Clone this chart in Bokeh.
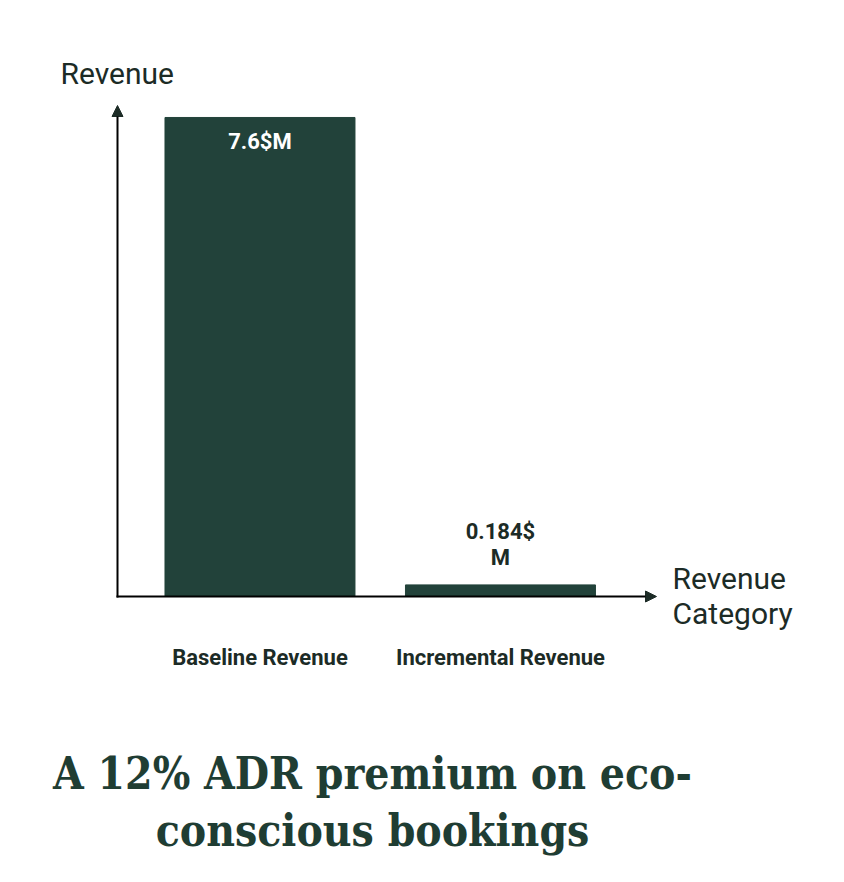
from bokeh.plotting import figure
from bokeh.models import ColumnDataSource, Arrow, NormalHead, Label, Range1d
from bokeh.core.properties import value
from bokeh.embed import file_html
from bokeh.resources import INLINE

categories = ["Baseline Revenue", "Incremental Revenue"]
revenue_musd = [7.6, 0.184]
value_labels = ["7.6$M", "0.184$\nM"]
title_lines = ["A 12% ADR premium on eco-", "conscious bookings"]

W, H = 828, 866
BAR = "#22423a"
DARK = "#1c2b26"

xs = [1, 2]
p = figure(width=W, height=H, output_backend="svg", toolbar_location=None,
           x_range=Range1d(-0.079, 3.364), y_range=Range1d(-4.284, 9.456),
           min_border=0)
p.axis.visible = False
p.grid.visible = False
p.outline_line_color = None
p.background_fill_color = "white"

src = ColumnDataSource(dict(x=xs, top=revenue_musd, cat=categories))
p.vbar(x="x", top="top", bottom=0, width=0.79, color=BAR, source=src)

def sx(img_x):
    return img_x
def sy(img_y):
    return H - img_y

p.add_layout(Arrow(x_start=sx(117), y_start=sy(597), x_end=sx(117), y_end=sy(105),
                   start_units="screen", end_units="screen", line_width=2, line_color="black",
                   end=NormalHead(size=11, fill_color=DARK, line_color=DARK)))
p.add_layout(Arrow(x_start=sx(116), y_start=sy(596), x_end=sx(656), y_end=sy(596),
                   start_units="screen", end_units="screen", line_width=2, line_color="black",
                   end=NormalHead(size=11, fill_color=DARK, line_color=DARK)))

# value labels
p.text(x=[xs[0]], y=[revenue_musd[0]], text=[value_labels[0]], text_color="white",
       text_font=value("Roboto"), text_font_style="bold", text_font_size="22px",
       text_align="center", text_baseline="top", y_offset=12)
p.text(x=[xs[1]], y=[revenue_musd[1]], text=[value_labels[1]], text_color=DARK,
       text_font=value("Roboto"), text_font_style="bold", text_font_size="22px",
       text_align="center", text_baseline="bottom", y_offset=-15, text_line_height=1.05)

# category labels
p.text(x="x", y=0, text="cat", source=src, text_color=DARK,
       text_font=value("Roboto"), text_font_style="bold", text_font_size="22px",
       text_align="center", text_baseline="middle", y_offset=61)

# axis titles
for t, xx, yy in [("Revenue", 60, 73), ("Revenue", 672, 578), ("Category", 672, 613)]:
    p.add_layout(Label(x=sx(xx), y=sy(yy), x_units="screen", y_units="screen",
                       text=t, text_font="Roboto", text_font_size="30px",
                       text_color=DARK, text_baseline="middle"))

# title
for line, yy in zip(title_lines, [773, 830]):
    p.add_layout(Label(x=sx(372), y=sy(yy), x_units="screen", y_units="screen",
                       text=line, text_font="'DejaVu Serif Condensed', 'DejaVu Serif'",
                       text_font_style="bold",
                       text_font_size="44px", text_color="#1f3d33",
                       text_align="center", text_baseline="middle"))

open("out.html", "w").write(file_html(p, INLINE))
